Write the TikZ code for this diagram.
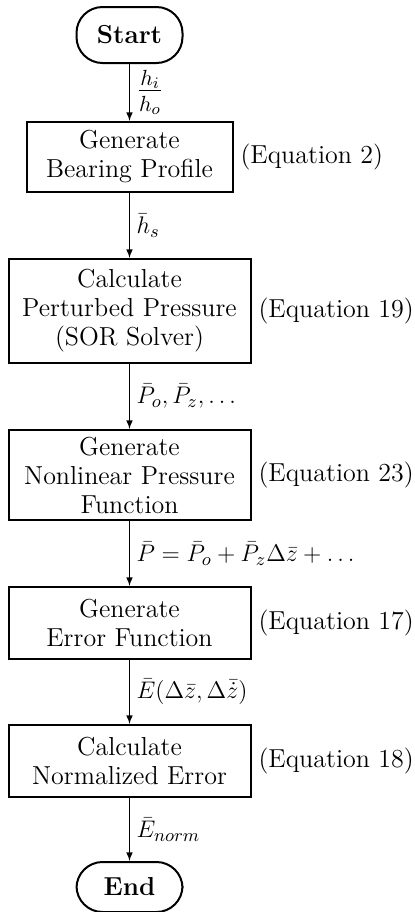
\documentclass[tikz,border=0pt]{standalone}
\usepackage{amsmath,amssymb}
\usetikzlibrary{positioning,arrows}
\tikzstyle{blk}=[draw, line width=1pt, align=center, minimum width=121pt, inner sep=2pt]
\tikzstyle{term}=[draw, line width=1pt, rounded corners=13pt, minimum width=53pt, minimum height=28pt, font=\fontsize{13}{15}\selectfont\bfseries]
\tikzstyle{flow}=[->, >=latex, line width=0.5pt]

\begin{document}
\begin{tikzpicture}[x=0.5pt, y=-0.5pt, font=\fontsize{13}{14.5}\selectfont]
\useasboundingbox (0,0) rectangle (414,912);
\node[term] (S) at (129.5,35) {Start};
\node[blk, minimum width=103pt, minimum height=35pt] (B1) at (129.5,157) {Generate\\Bearing Profile};
\node[blk, minimum height=52pt] (B2) at (129.5,311) {Calculate\\Perturbed Pressure\\(SOR Solver)};
\node[blk, minimum height=45pt] (B3) at (129.5,475) {Generate\\Nonlinear Pressure\\Function};
\node[blk, minimum height=36pt] (B4) at (129.5,623) {Generate\\Error Function};
\node[blk, minimum height=36pt] (B5) at (129.5,761) {Calculate\\Normalized Error};
\node[term, minimum height=25pt] (E) at (129.5,887) {End};
\foreach \n/\e in {B1/2,B2/19,B3/23,B4/17,B5/18}
{
\node[right=0pt of \n] (eq\n) {(Equation \e)};
}
\draw[flow] (S) -- node[right, font=\fontsize{16}{19}\selectfont] {$\frac{h_i}{h_o}$} (B1);
\draw[flow] (B1) -- node[right] {$\bar{h}_s$} (B2);
\draw[flow] (B2) -- node[right] {$\bar{P}_o, \bar{P}_z, \ldots$} (B3);
\draw[flow] (B3) -- node[right] {$\bar{P} = \bar{P}_o + \bar{P}_z \Delta\bar{z} + \ldots$} (B4);
\draw[flow] (B4) -- node[right] {$\bar{E}(\Delta\bar{z}, \Delta\bar{\dot{z}})$} (B5);
\draw[flow] (B5) -- node[right] {$\bar{E}_{norm}$} (E);
\end{tikzpicture}
\end{document}
